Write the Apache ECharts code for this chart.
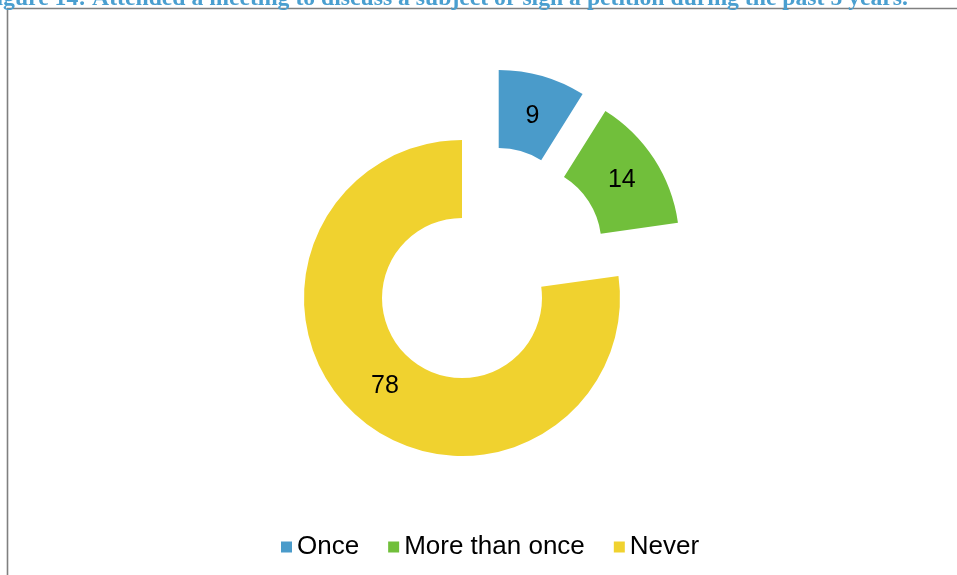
<!DOCTYPE html>
<html>
<head>
<meta charset="utf-8">
<title>Attended a meeting or signed a petition</title>
<script src="https://cdn.jsdelivr.net/npm/echarts@6/dist/echarts.min.js"></script>
<style>
  html, body { margin: 0; padding: 0; background: #ffffff; }
  #chart { width: 957px; height: 575px; }
</style>
</head>
<body>
<div id="chart"></div>
<script>
// Answers (per cent of respondents)
const categories = ['Once', 'More than once', 'Never'];
const values = [9, 14, 78];
const titleText = 'Figure 14: Attended a meeting to discuss a subject or sign a petition during the past 5 years.';

// Slice colours, in category order
const colors = ['#4a9bca', '#71bf3b', '#f0d22f'];

// Ring geometry: every slice is drawn by its own pie series so that
// the two small slices can be pulled out from the ring.
const ringCenter = [462, 298];
const sliceCenters = [[498.7, 228], [521.5, 244.8], ringCenter];
const radii = [80, 158];
// small nudges of the value labels inside their slices
const labelNudges = [[0, 5], [-2, 2], [3, -4]];

const fontFamily = 'Liberation Sans, Arial, Helvetica, sans-serif';

function sliceSeries(k) {
  return {
    type: 'pie',
    name: categories[k],
    center: sliceCenters[k],
    radius: radii,
    startAngle: 90,
    clockwise: true,
    avoidLabelOverlap: false,
    animation: false,
    emphasis: { disabled: true },
    labelLine: { show: false },
    data: categories.map((name, i) => ({
      name: name,
      value: values[i],
      itemStyle: { color: i === k ? colors[i] : 'rgba(0,0,0,0)' },
      label: i === k
        ? {
            show: true, position: 'inside', formatter: '{c}',
            fontFamily: fontFamily, fontSize: 25, color: '#000000',
            offset: labelNudges[i]
          }
        : { show: false },
      silent: i !== k
    }))
  };
}

const chart = echarts.init(document.getElementById('chart'), null, { renderer: 'canvas' });

chart.setOption({
  backgroundColor: '#ffffff',
  animation: false,
  legend: {
    data: categories.map((name, i) => ({ name: name, itemStyle: { color: colors[i], opacity: 1 } })),
    left: 281,
    top: 534,
    icon: 'rect',
    itemWidth: 11,
    itemHeight: 11,
    itemGap: 29,
    padding: 0,
    selectedMode: false,
    textStyle: { fontFamily: fontFamily, fontSize: 26, lineHeight: 25, color: '#000000' }
  },
  graphic: [
    {
      type: 'rect',
      shape: { x: 7.5, y: 8.5, width: 1200, height: 1200 },
      style: { fill: 'none', stroke: '#808080', lineWidth: 1.6 },
      silent: true
    },
    {
      type: 'text',
      x: 908,
      y: 11,
      style: {
        text: titleText,
        fill: '#4a9fd0',
        font: 'bold 23.7px "Liberation Serif", "Times New Roman", serif',
        textAlign: 'right',
        textVerticalAlign: 'bottom'
      },
      silent: true
    }
  ],
  series: [sliceSeries(2), sliceSeries(0), sliceSeries(1)]
});
</script>
</body>
</html>
